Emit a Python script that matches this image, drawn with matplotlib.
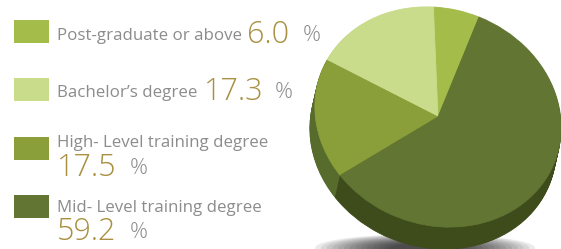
import matplotlib.pyplot as plt
from matplotlib.transforms import Affine2D
from matplotlib.patches import Ellipse, Rectangle

plt.rcParams['font.family'] = ['Open Sans', 'DejaVu Sans']

# data
labels = ["Post-graduate or above", "Bachelor\u2019s degree",
          "High- Level training degree", "Mid- Level training degree"]
values = [6.0, 17.3, 17.5, 59.2]
top_colors = ["#a3bc4a", "#c9dc8b", "#8a9e39", "#627532"]
side_colors = ["#73862f", "#8fa05a", "#566b2c", "#3e4c1c"]

W, H = 561, 249
fig = plt.figure(figsize=(W / 100, H / 100), dpi=100)
ax = fig.add_axes([0, 0, 1, 1])

def Y(y):
    # image row -> data y (axes run bottom-up)
    return H - y

def pie_layer(colors, dx, dy, z):
    wedges, _ = ax.pie(values, colors=colors, startangle=88, counterclock=True,
                       wedgeprops=dict(linewidth=0.6))
    tr = Affine2D().scale(125, 108).rotate_deg(-20).translate(438 + dx, Y(117) + dy) + ax.transData
    for w in wedges:
        w.set_edgecolor(w.get_facecolor())
        w.set_transform(tr)
        w.set_zorder(z)

# soft shadow under the pie
for i in range(14):
    f = i / 13
    ax.add_patch(Ellipse((425, Y(248)), 220 - 150 * f, 28 - 18 * f,
                         facecolor='black', alpha=0.08, lw=0, zorder=0))

# extruded side of the pie
n = 24
for k in range(n, 0, -1):
    pie_layer(side_colors, -5 * k / n, -22 * k / n, 1)
# top face
pie_layer(top_colors, 0, 0, 2)

# legend block
gray = "#8c8c8c"
gold = "#a89040"
sq_top = [20, 78, 137, 195]
label_base = [40, 97, 147, 212]
num_pos = [(247, 43), (204, 100), (57, 176), (57, 240)]
pct_x = [303, 275, 130, 130]

for i in range(4):
    ax.add_patch(Rectangle((14, Y(sq_top[i] + 23)), 35, 23, facecolor=top_colors[i], lw=0, zorder=3))
    ax.text(57, Y(label_base[i]), labels[i], color=gray, fontsize=12.2,
            ha='left', va='baseline', zorder=3)
    nx, ny = num_pos[i]
    ax.text(nx, Y(ny), f"{values[i]:.1f}", color=gold, fontsize=22, fontweight='light',
            ha='left', va='baseline', zorder=3)
    ax.text(pct_x[i], Y(ny - 2), "%", color=gray, fontsize=16, fontweight='light',
            ha='left', va='baseline', zorder=3)

ax.set_xlim(0, W)
ax.set_ylim(0, H)
ax.set_aspect('auto')
ax.axis('off')

fig.savefig('out.png', dpi=100)
